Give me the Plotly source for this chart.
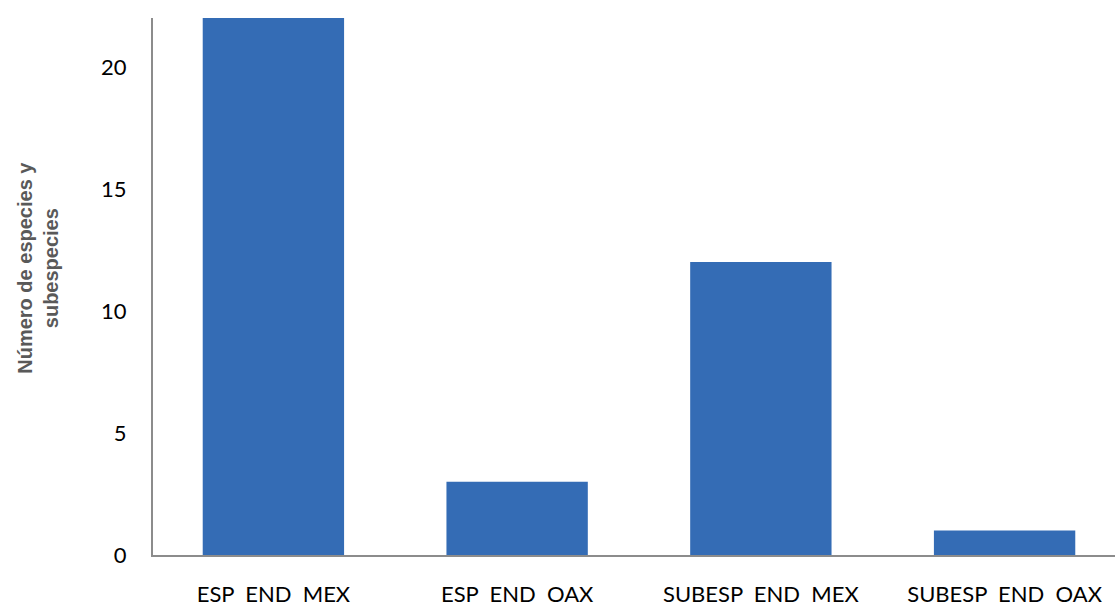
import plotly.graph_objects as go

categories = ["ESP\u00a0\u00a0END\u00a0\u00a0MEX", "ESP\u00a0\u00a0END\u00a0\u00a0OAX",
              "SUBESP\u00a0\u00a0END\u00a0\u00a0MEX", "SUBESP\u00a0\u00a0END\u00a0\u00a0OAX"]
values = [22, 3, 12, 1]
y_ticks = [0, 5, 10, 15, 20]

xpos = list(range(len(categories)))

fig = go.Figure()
fig.add_trace(go.Bar(
    x=xpos, y=values, width=0.58,
    marker=dict(color="#346CB5", line=dict(width=0)),
))

fig.update_layout(
    width=1115, height=608,
    margin=dict(l=153, r=0, t=18, b=53),
    paper_bgcolor="white", plot_bgcolor="white",
    showlegend=False,
    font=dict(family="Lato", color="black"),
    xaxis=dict(
        range=[-0.494, 3.453], tickmode="array", tickvals=xpos, ticktext=categories,
        showgrid=False, zeroline=False, showline=True, linecolor="#8c8c8c", linewidth=2,
        ticks="", tickfont=dict(size=22, family="Lato", color="black"), ticklabelstandoff=19,
        automargin=False,
    ),
    yaxis=dict(
        range=[0, 22], tickmode="array", tickvals=y_ticks,
        showgrid=False, zeroline=False, showline=True, linecolor="#8c8c8c", linewidth=2,
        ticks="", tickfont=dict(size=22, family="Lato", color="black"), ticklabelstandoff=20,
        automargin=False,
    ),
    annotations=[dict(
        text="<b>Número de especies y<br>subespecies</b>", textangle=-90,
        xref="paper", yref="paper", x=-0.119, y=0.534, xanchor="center", yanchor="middle",
        showarrow=False, font=dict(family="Liberation Sans", size=20, color="#595959"),
    )],
)

fig.write_html("out.html")
